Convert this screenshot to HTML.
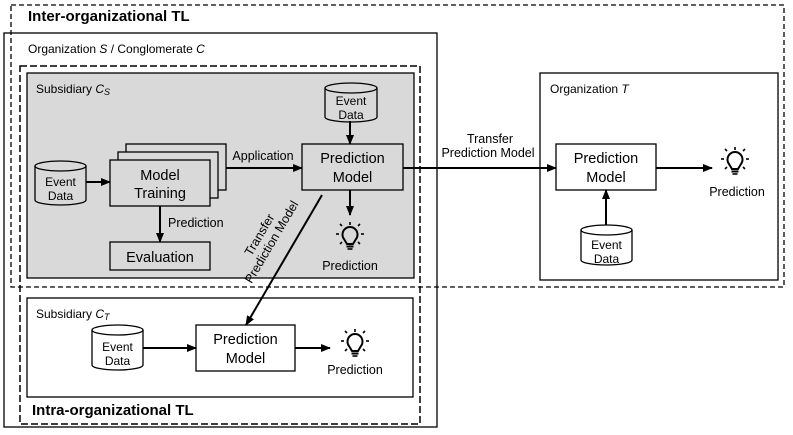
<!DOCTYPE html>
<html><head><meta charset="utf-8"><style>
body{margin:0;background:#fff}
svg{display:block;font-family:"Liberation Sans",Arial,sans-serif}
</style></head><body>
<svg width="793" height="435" viewBox="0 0 793 435" xmlns="http://www.w3.org/2000/svg">
<defs>
<marker id="a" markerWidth="10" markerHeight="8" refX="9" refY="4" orient="auto" markerUnits="userSpaceOnUse"><path d="M0,0 L10,4 L0,8 z" fill="#000"/></marker>
<g id="bulb">
<path d="M-6,3 A7.5,7.5 0 1 1 6,3 L3,8 L-3,8 Z" fill="none" stroke="#000" stroke-width="2"/>
<line x1="-3.5" y1="10.5" x2="3.5" y2="10.5" stroke="#000" stroke-width="2"/>
<line x1="-2.5" y1="13" x2="2.5" y2="13" stroke="#000" stroke-width="1.6"/>
<g stroke="#000" stroke-width="1.6">
<line x1="0" y1="-14" x2="0" y2="-11"/>
<line x1="-14" y1="-2" x2="-11" y2="-2"/><line x1="11" y1="-2" x2="14" y2="-2"/>
<line x1="-10" y1="-12" x2="-8" y2="-10"/><line x1="10" y1="-12" x2="8" y2="-10"/>
<line x1="-10" y1="8" x2="-8" y2="6"/><line x1="10" y1="8" x2="8" y2="6"/>
</g></g>
</defs>
<g fill="none" stroke="#000" stroke-width="1.3">
<rect x="11" y="5" width="773" height="282" stroke-dasharray="5,3"/>
<rect x="4" y="33" width="433" height="394"/>
<rect x="20" y="66" width="400" height="358" stroke-dasharray="7,3" stroke-width="1.5"/>
<rect x="27" y="73" width="387" height="205" fill="#d9d9d9"/>
<rect x="27" y="298" width="386" height="99"/>
<rect x="540" y="73" width="238" height="207"/>
</g>
<text x="28" y="21" font-size="15" font-weight="bold">Inter-organizational TL</text>
<text x="28" y="53" font-size="12">Organization <tspan font-style="italic">S</tspan> / Conglomerate <tspan font-style="italic">C</tspan></text>
<text x="36" y="93" font-size="12">Subsidiary <tspan font-style="italic">C<tspan font-size="9" dy="2">S</tspan></tspan></text>
<text x="36" y="318" font-size="12">Subsidiary <tspan font-style="italic">C<tspan font-size="9" dy="2">T</tspan></tspan></text>
<text x="32" y="415" font-size="15" font-weight="bold">Intra-organizational TL</text>
<text x="550" y="93" font-size="12">Organization <tspan font-style="italic">T</tspan></text>

<g stroke="#000" stroke-width="1.3" fill="#d9d9d9">
<path d="M35,166 v34 a25.5,5 0 0 0 51,0 v-34"/><ellipse cx="60.5" cy="166" rx="25.5" ry="5"/>
<path d="M325,88 v29 a26,5 0 0 0 52,0 v-29"/><ellipse cx="351" cy="88" rx="26" ry="5"/>
<rect x="126" y="144" width="100" height="46"/>
<rect x="118" y="152" width="100" height="46"/>
<rect x="110" y="160" width="100" height="46"/>
<rect x="302" y="144" width="101" height="46"/>
<rect x="110" y="242" width="100" height="28"/>
</g>
<g stroke="#000" stroke-width="1.3" fill="#fff">
<path d="M92,330 v35 a25.5,5 0 0 0 51,0 v-35"/><ellipse cx="117.5" cy="330" rx="25.5" ry="5"/>
<path d="M581,230 v30 a25.5,5 0 0 0 51,0 v-30"/><ellipse cx="606.5" cy="230" rx="25.5" ry="5"/>
<rect x="196" y="325" width="99" height="46"/>
<rect x="556" y="144" width="100" height="46"/>
</g>
<g font-size="12" text-anchor="middle">
<text x="60.5" y="186">Event</text><text x="60.5" y="200">Data</text>
<text x="351" y="105">Event</text><text x="351" y="119">Data</text>
<text x="117.5" y="351">Event</text><text x="117.5" y="365">Data</text>
<text x="606.5" y="249">Event</text><text x="606.5" y="263">Data</text>
</g>
<g font-size="14.5" text-anchor="middle">
<text x="160" y="180">Model</text><text x="160" y="198">Training</text>
<text x="352.5" y="163">Prediction</text><text x="352.5" y="182">Model</text>
<text x="160" y="262">Evaluation</text>
<text x="245.5" y="344">Prediction</text><text x="245.5" y="363">Model</text>
<text x="606" y="163">Prediction</text><text x="606" y="182">Model</text>
</g>
<g stroke="#000" stroke-width="2" marker-end="url(#a)">
<line x1="86" y1="182" x2="110" y2="182"/>
<line x1="226" y1="168" x2="302" y2="168"/>
<line x1="350" y1="121" x2="350" y2="144"/>
<line x1="160" y1="206" x2="160" y2="242"/>
<line x1="350" y1="190" x2="350" y2="215"/>
<line x1="322" y1="195" x2="246" y2="325"/>
<line x1="143" y1="348" x2="196" y2="348"/>
<line x1="295" y1="348" x2="330" y2="348"/>
<line x1="403" y1="168" x2="556" y2="168"/>
<line x1="656" y1="168" x2="712" y2="168"/>
<line x1="606" y1="225" x2="606" y2="190"/>
</g>
<use href="#bulb" x="350" y="236"/>
<use href="#bulb" x="355" y="343"/>
<use href="#bulb" x="735" y="161"/>
<g font-size="12.5" text-anchor="middle">
<text x="350" y="270">Prediction</text>
<text x="355" y="374">Prediction</text>
<text x="737" y="196">Prediction</text>
<text x="263" y="160">Application</text>
<text x="168" y="227" text-anchor="start">Prediction</text>
<text x="490" y="143">Transfer</text>
<text x="488" y="157">Prediction Model</text>
<g transform="translate(270,241) rotate(-59.5)">
<text x="0" y="-8">Transfer</text><text x="0" y="6">Prediction Model</text>
</g>
</g>
</svg>
</body></html>
